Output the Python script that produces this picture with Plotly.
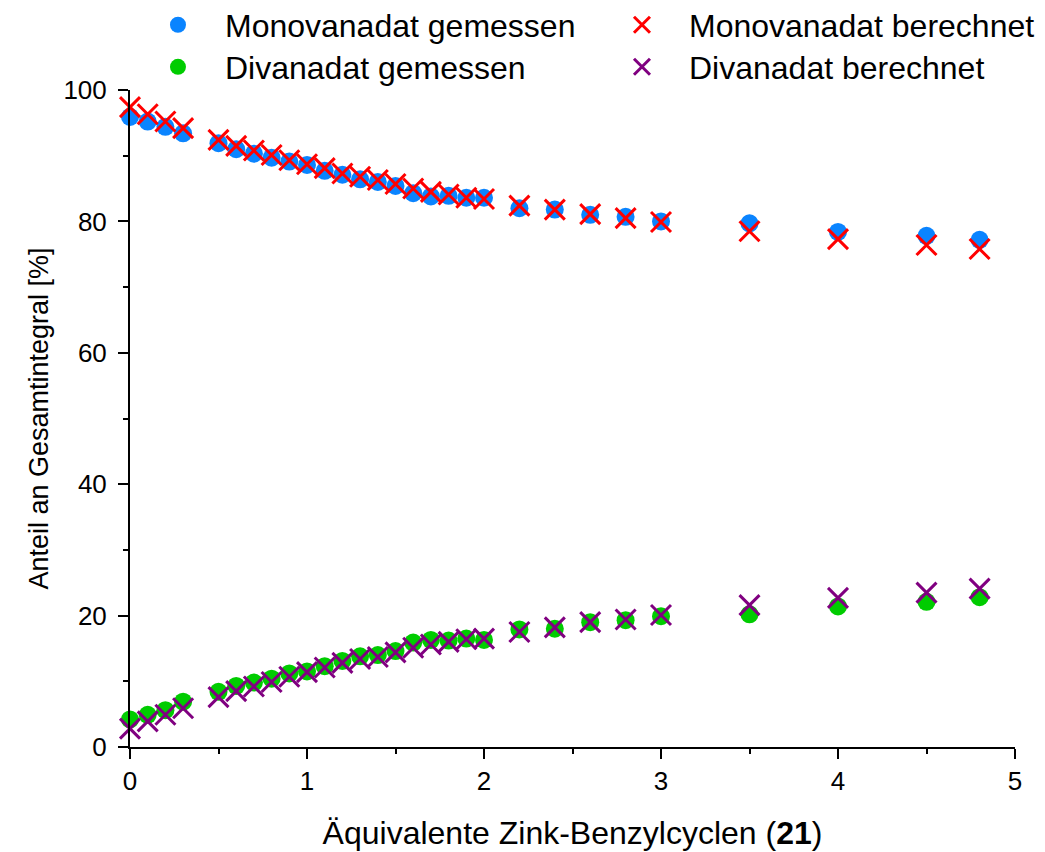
import plotly.graph_objects as go

x_vals = [0, 0.1, 0.2, 0.3, 0.5, 0.6, 0.7, 0.8, 0.9, 1.0, 1.1, 1.2, 1.3, 1.4, 1.5,
          1.6, 1.7, 1.8, 1.9, 2.0, 2.2, 2.4, 2.6, 2.8, 3.0, 3.5, 4.0, 4.5, 4.8]

mono_gemessen = [95.9, 95.2, 94.4, 93.4, 91.9, 91.0, 90.3, 89.7, 89.1, 88.6, 87.7, 87.1,
                 86.4, 86.0, 85.4, 84.3, 83.8, 83.9, 83.6, 83.6, 82.0, 81.8, 81.0, 80.7,
                 80.0, 79.7, 78.4, 77.8, 77.2]
mono_berechnet = [97.4, 96.3, 95.2, 94.2, 92.4, 91.5, 90.8, 90.1, 89.3, 88.7, 88.1, 87.3,
                  86.8, 86.3, 85.7, 85.0, 84.5, 84.1, 83.6, 83.4, 82.4, 81.8, 81.1, 80.5,
                  79.9, 78.5, 77.3, 76.4, 75.8]
di_gemessen = [4.2, 4.9, 5.6, 6.9, 8.4, 9.3, 9.8, 10.4, 11.2, 11.5, 12.3, 13.1, 13.8, 14.0,
               14.6, 15.9, 16.3, 16.2, 16.5, 16.3, 17.9, 18.0, 19.0, 19.3, 19.9, 20.2, 21.4,
               22.1, 22.8]
di_berechnet = [2.8, 3.9, 4.9, 5.9, 7.6, 8.5, 9.2, 9.9, 10.7, 11.4, 12.1, 12.8, 13.4, 13.7,
                14.4, 15.1, 15.6, 16.0, 16.4, 16.5, 17.5, 18.2, 19.0, 19.4, 20.1, 21.6, 22.7,
                23.5, 24.1]

x_ticks = [0, 1, 2, 3, 4, 5]
y_ticks = [0, 20, 40, 60, 80, 100]

FONT = "Arial, Liberation Sans, sans-serif"
BLUE = "#0a84ff"
GREEN = "#00cc00"
RED = "#ff0000"
PURPLE = "#800080"

fig = go.Figure()
fig.add_trace(go.Scatter(x=x_vals, y=mono_gemessen, mode="markers", name="Monovanadat gemessen",
                         marker=dict(symbol="circle", size=18, color=BLUE), legend="legend",
                         cliponaxis=False))
fig.add_trace(go.Scatter(x=x_vals, y=di_gemessen, mode="markers", name="Divanadat gemessen",
                         marker=dict(symbol="circle", size=18, color=GREEN), legend="legend2",
                         cliponaxis=False))
fig.add_trace(go.Scatter(x=x_vals, y=mono_berechnet, mode="markers", name="Monovanadat berechnet",
                         marker=dict(symbol="x-thin", size=20, color=RED,
                                     line=dict(color=RED, width=3)), legend="legend3",
                         cliponaxis=False))
fig.add_trace(go.Scatter(x=x_vals, y=di_berechnet, mode="markers", name="Divanadat berechnet",
                         marker=dict(symbol="x-thin", size=20, color=PURPLE,
                                     line=dict(color=PURPLE, width=3)), legend="legend4",
                         cliponaxis=False))

legend_common = dict(font=dict(family=FONT, size=32, color="black"), bgcolor="rgba(0,0,0,0)",
                     itemwidth=84, yanchor="middle", xanchor="left", visible=True)

fig.update_layout(
    width=1045, height=852,
    showlegend=True,
    paper_bgcolor="white", plot_bgcolor="white",
    margin=dict(l=122, r=38, t=82, b=113, autoexpand=False),
    font=dict(family=FONT, color="black"),
    legend=dict(x=0.0011, y=1.099, **legend_common),
    legend2=dict(x=0.0011, y=1.035, **legend_common),
    legend3=dict(x=0.5254, y=1.099, **legend_common),
    legend4=dict(x=0.5254, y=1.035, **legend_common),
    xaxis=dict(range=[0, 5], tickvals=x_ticks, ticktext=[str(v) for v in x_ticks],
               showgrid=False, zeroline=False, showline=True, linecolor="black", linewidth=2,
               ticks="outside", ticklen=10, tickwidth=2, tickcolor="black",
               tickfont=dict(family=FONT, size=26, color="black"),
               minor=dict(dtick=0.5, tick0=0, ticks="outside", ticklen=5, tickwidth=2,
                          tickcolor="black", showgrid=False),
               title=dict(text="Äquivalente Zink-Benzylcyclen (<b>21</b>)",
                          font=dict(family=FONT, size=32, color="black"), standoff=26)),
    yaxis=dict(range=[0, 100], tickvals=y_ticks, ticktext=[str(v) for v in y_ticks],
               showgrid=False, zeroline=False, showline=True, linecolor="black", linewidth=2,
               ticks="outside", ticklen=10, tickwidth=2, tickcolor="black", ticklabelstandoff=6,
               tickfont=dict(family=FONT, size=26, color="black"),
               minor=dict(dtick=10, tick0=0, ticks="outside", ticklen=5, tickwidth=2,
                          tickcolor="black", showgrid=False),
               title=dict(text="Anteil an Gesamtintegral [%]",
                          font=dict(family=FONT, size=27, color="black"), standoff=7)),
)

fig.write_html("out.html")
